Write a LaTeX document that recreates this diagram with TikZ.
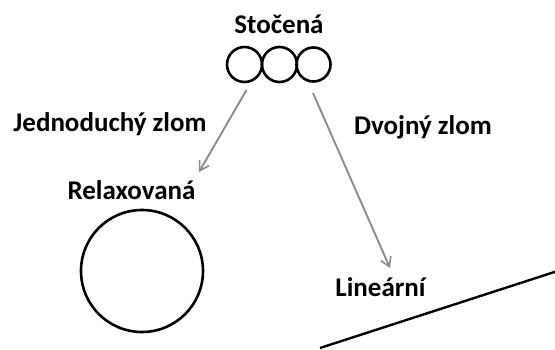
\documentclass[tikz,border=0pt]{standalone}
\usepackage{fontspec}
\setmainfont{Carlito}
\usetikzlibrary{arrows.meta}
\begin{document}
\begin{tikzpicture}[x=1pt,y=-1pt,
  lbl/.style={font=\fontsize{27}{30}\selectfont\bfseries, anchor=base, inner sep=0pt},
  ring/.style={draw=black, line width=2.6pt, circle, inner sep=0pt},
  conn/.style={draw=gray!90, line width=1.9pt, -{Straight Barb[length=9pt,width=11pt,line width=1.6pt]}}]
\useasboundingbox (0,0) rectangle (555,349);
\node[lbl] (stocena) at (279,33) {Stočená};
\node[ring, minimum size=35pt] (c1) at (244.5,64.5) {};
\node[ring, minimum size=35pt] (c2) at (279.5,64.5) {};
\node[ring, minimum size=34pt] (c3) at (313.5,64.5) {};
\node[lbl] (jedn) at (110,131.5) {Jednoduchý zlom};
\node[lbl] (dvoj) at (423,134) {Dvojný zlom};
\node[lbl] (relax) at (131.5,199) {Relaxovaná};
\node[ring, minimum size=122pt] (big) at (142,271) {};
\node[lbl] (linear) at (380.5,296) {Lineární};
\coordinate (a1s) at (246.5,90);
\coordinate (a1e) at (199,172);
\coordinate (a2s) at (313,93);
\coordinate (a2e) at (390,268);
\draw[conn] (a1s) -- (a1e);
\draw[conn] (a2s) -- (a2e);
\coordinate (l1) at (320,348);
\coordinate (l2) at (556,271.5);
\draw[line width=2.4pt] (l1) -- (l2);
\end{tikzpicture}
\end{document}
